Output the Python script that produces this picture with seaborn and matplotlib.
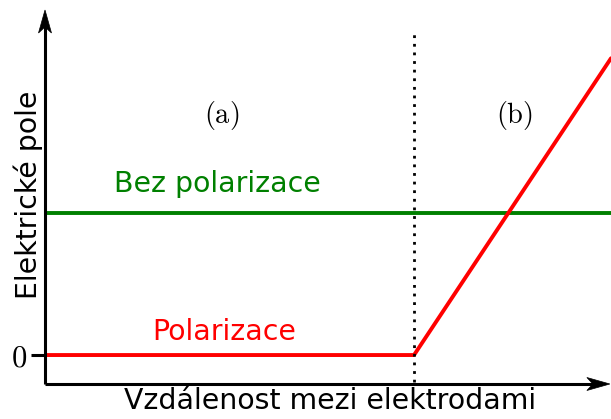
import matplotlib
matplotlib.use("Agg")
import matplotlib.pyplot as plt
import matplotlib.transforms as mtransforms
from matplotlib.patches import Polygon
import seaborn as sns
import pandas as pd

sns.set_theme(style="white")
plt.rcParams["font.family"] = ["DejaVu Sans"]
plt.rcParams["mathtext.fontset"] = "cm"
plt.rcParams["text.color"] = "black"
plt.rcParams["axes.labelcolor"] = "black"
plt.rcParams["ytick.color"] = "black"

# Distance between electrodes (relative) and field strength (relative)
x_without = [0.0, 1.0]
field_without = [1.0, 1.0]

x_with = [0.0, 0.652, 1.0]
field_with = [0.0, 0.0, 2.09]

boundary_x = 0.652

region_labels = ["(a)", "(b)"]
region_x = [0.313, 0.83]
region_y = 1.69

df_without = pd.DataFrame({"x": x_without, "E": field_without})
df_with = pd.DataFrame({"x": x_with, "E": field_with})

fig = plt.figure(figsize=(6.11, 4.19), dpi=100)
ax = fig.add_axes([45 / 611, 35 / 419, 566 / 611, 374 / 419])
ax.set_xlim(0, 1)
ax.set_ylim(-0.204, 2.43)

sns.lineplot(data=df_without, x="x", y="E", ax=ax, color="#008000", lw=2.8,
             estimator=None, sort=False)
sns.lineplot(data=df_with, x="x", y="E", ax=ax, color="#ff0000", lw=2.8,
             estimator=None, sort=False)
ax.set_xlabel("")
ax.set_ylabel("")

ax.plot([boundary_x, boundary_x], [-0.19, 2.275], color="black", lw=2,
        linestyle=(0, (1, 2.1)), dash_capstyle="butt")

for s in ax.spines.values():
    s.set_visible(False)

# Axis lines with stealth-style arrowheads
ax.plot([0, 0], [0, 0.96], transform=ax.transAxes, color="black", lw=2.2,
        clip_on=False, solid_capstyle="butt")
ax.plot([0, 0.97], [0, 0], transform=ax.transAxes, color="black", lw=2.2,
        clip_on=False, solid_capstyle="butt")

def arrowhead(tip, direction):
    L, W, notch = 0.23, 0.065, 0.17
    if direction == "up":
        verts = [(0, 0), (-W, -L), (0, -notch), (W, -L)]
    else:
        verts = [(0, 0), (-L, W), (-notch, 0), (-L, -W)]
    tr = fig.dpi_scale_trans + mtransforms.ScaledTranslation(tip[0], tip[1], ax.transAxes)
    ax.add_patch(Polygon(verts, closed=True, transform=tr, facecolor="black",
                         edgecolor="black", lw=0.5, clip_on=False))

arrowhead((0, 1.0), "up")
arrowhead((0.998, 0), "right")

ax.set_xticks([])
ax.set_yticks([0])
ax.set_yticklabels([r"$0$"], fontsize=22)
ax.tick_params(axis="y", length=10, width=2.2, color="black", pad=3, left=True)

fig.text(330 / 611, (419 - 401) / 419, "Vzdálenost mezi elektrodami",
         fontsize=20.4, ha="center", va="center")
fig.text(28 / 611, (419 - 195) / 419, "Elektrické pole", fontsize=20.4,
         rotation=90, ha="center", va="center")

for lab, xx in zip(region_labels, region_x):
    ax.text(xx, region_y, r"$\mathrm{" + lab + "}$", fontsize=20.4,
            ha="center", va="center")

ax.text(0.304, 1.204, "Bez polarizace", fontsize=20.4, color="#008000",
        ha="center", va="center")
ax.text(0.317, 0.162, "Polarizace", fontsize=20.4, color="#ff0000",
        ha="center", va="center")

fig.savefig("out.png", dpi=100)
